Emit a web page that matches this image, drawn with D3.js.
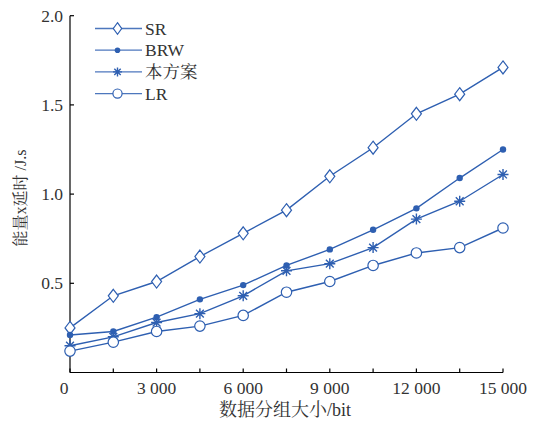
<!DOCTYPE html>
<html><head><meta charset="utf-8">
<script src="https://cdn.jsdelivr.net/npm/d3@7"></script>
<style>body{margin:0;background:#fff}svg{display:block}
svg text{font-family:"Liberation Serif","Times New Roman","Noto Serif CJK SC","Noto Sans CJK SC",serif;}</style>
</head><body>
<script>
const xValues = [0,1500,3000,4500,6000,7500,9000,10500,12000,13500,15000];
const srValues = [0.25,0.43,0.51,0.65,0.78,0.91,1.10,1.26,1.45,1.56,1.71];
const brwValues = [0.21,0.23,0.31,0.41,0.49,0.60,0.69,0.80,0.92,1.09,1.25];
const oursValues = [0.15,0.20,0.28,0.33,0.43,0.57,0.61,0.70,0.86,0.96,1.11];
const lrValues = [0.12,0.17,0.23,0.26,0.32,0.45,0.51,0.60,0.67,0.70,0.81];
const seriesNames = ["SR","BRW","本方案","LR"];
const seriesMarkers = ["diamond","dot","star","circle"];
const xTicks = [0,3000,6000,9000,12000,15000];
const xMinorTicks = [0,1500,3000,4500,6000,7500,9000,10500,12000,13500,15000];
const yTicks = [0.5,1.0,1.5,2.0];
const xLabel = "数据分组大小/bit";
const yLabel = "能量x延时 /J.s";

const W=540,H=424;
const color="#2e5fb1", textColor="#333";
const svg=d3.select("body").append("svg").attr("width",W).attr("height",H);
const x=d3.scaleLinear().domain([0,15000]).range([70,503]);
const y=d3.scaleLinear().domain([0,2.0]).range([372.5,15.7]);

const fmt=d=>d===0?"0":d3.format(",")(d).replace(/,/g," ");
// x axis
const gx=svg.append("g").attr("transform","translate(0,372.5)");
gx.append("line").attr("x1",70).attr("x2",503).attr("stroke","#000").attr("stroke-width",1.2);
gx.selectAll("line.t").data(xMinorTicks).join("line").attr("class","t")
  .attr("x1",d=>x(d)).attr("x2",d=>x(d)).attr("y1",0).attr("y2",-4).attr("stroke","#000").attr("stroke-width",1.2);
gx.selectAll("text").data(xTicks).join("text")
  .attr("x",d=>x(d)+(d===0?-6:0)).attr("y",21).attr("text-anchor","middle")
  .style("font-size","17.5px").attr("fill",textColor).text(fmt);
// y axis
const gy=svg.append("g").attr("transform","translate(70,0)");
gy.append("line").attr("y1",y(2.0)).attr("y2",372.5).attr("stroke","#000").attr("stroke-width",1.2);
gy.selectAll("line.t").data(yTicks).join("line").attr("class","t")
  .attr("x1",0).attr("x2",4).attr("y1",d=>y(d)).attr("y2",d=>y(d)).attr("stroke","#000").attr("stroke-width",1.2);
gy.selectAll("text").data(yTicks).join("text")
  .attr("x",-7).attr("y",d=>y(d)).attr("dy","0.35em").attr("text-anchor","end")
  .style("font-size","17.5px").attr("fill",textColor).text(d=>d.toFixed(1));
// axis titles
svg.append("text").attr("x",285).attr("y",416).attr("text-anchor","middle")
  .style("font-size","18px").attr("fill",textColor).text(xLabel);
svg.append("text").attr("transform","translate(26,198) rotate(-90)").attr("text-anchor","middle")
  .style("font-size","16px").attr("fill",textColor).text(yLabel);

function marker(g,type,s,legend){
  if(type==="diamond"){
    const w=legend?4.2:5, h=legend?5.8:6.5;
    g.append("path").attr("d",`M0,${-h}L${w},0L0,${h}L${-w},0Z`).attr("fill","#fff").attr("stroke",color).attr("stroke-width",1.2);
  } else if(type==="dot"){
    g.append("circle").attr("r",legend?2.8:3.2).attr("fill",color);
  } else if(type==="circle"){
    g.append("circle").attr("r",legend?4.6:5.2).attr("fill","#fff").attr("stroke",color).attr("stroke-width",1.2);
  } else {
    const r=legend?4.5:5.5, q=legend?3.2:3.9;
    g.append("path").attr("d",`M0,${-r}L0,${r}M${-r},0L${r},0M${-q},${-q}L${q},${q}M${-q},${q}L${q},${-q}`)
      .attr("stroke",color).attr("stroke-width",1.4).attr("fill","none");
  }
}
const allSeries=[srValues,brwValues,oursValues,lrValues];
const line=d3.line().x((d,i)=>x(xValues[i])).y(d=>y(d));
allSeries.forEach((vals,k)=>{
  svg.append("path").datum(vals).attr("d",line).attr("fill","none").attr("stroke",color).attr("stroke-width",1.4);
});
allSeries.forEach((vals,k)=>{
  vals.forEach((v,i)=>{
    const g=svg.append("g").attr("transform",`translate(${x(xValues[i])},${y(v)})`);
    marker(g,seriesMarkers[k],1,false);
  });
});
// legend
seriesNames.forEach((name,k)=>{
  const ly=28.5+k*21.7;
  const g=svg.append("g").attr("transform",`translate(0,${ly})`);
  g.append("line").attr("x1",95).attr("x2",142).attr("stroke",color).attr("stroke-opacity",0.85).attr("stroke-width",1.3);
  const m=g.append("g").attr("transform","translate(117.5,0)");
  marker(m,seriesMarkers[k],1,true);
  g.append("text").attr("x",145).attr("y",0).attr("dy","0.35em")
    .style("font-size","17.5px").attr("fill",textColor).text(name);
});
</script>
</body></html>
